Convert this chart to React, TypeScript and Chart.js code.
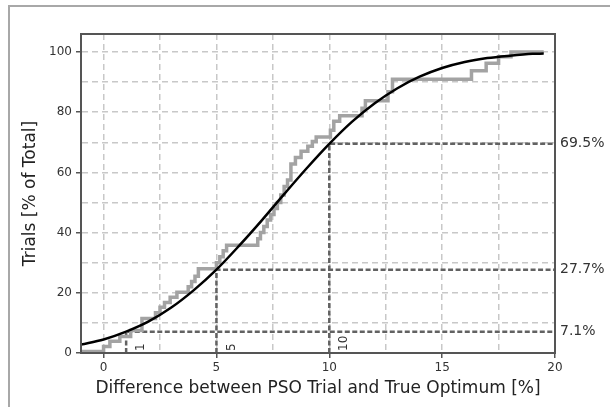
import React, { useEffect, useRef } from "react";
import { Chart, registerables } from "chart.js";

Chart.register(...registerables);

// ---- data ----
const xGrid = [0, 2.5, 5, 7.5, 10, 12.5, 15, 17.5, 20];
const xLabels = [0, 5, 10, 15, 20];
const yGrid = [0, 10, 20, 30, 40, 50, 60, 70, 80, 90, 100];
const yLabels = [0, 20, 40, 60, 80, 100];

// smooth fitted curve
const curveX = [-1, 0, 1, 2, 3, 4, 5, 6, 7, 8, 9, 10, 11, 12, 13, 14, 15, 16, 17, 18, 19, 19.5];
const curveY = [2.8, 4.5, 7.1, 10.5, 15.1, 20.9, 27.7, 35.6, 44.0, 52.8, 61.4, 69.5, 76.8, 82.9, 87.9, 91.8, 94.7, 96.7, 98.0, 98.8, 99.4, 99.5];

// empirical step curve (value holds from stepX[i] to stepX[i+1])
const stepX = [-1, 0, 0.28, 0.72, 1.2, 1.7, 2.3, 2.5, 2.7, 2.95, 3.25, 3.75, 3.9, 4.05, 4.2, 5.0, 5.15, 5.3, 5.45, 6.83, 6.95, 7.1, 7.25, 7.4, 7.55, 7.7, 7.85, 8.0, 8.15, 8.3, 8.5, 8.75, 9.05, 9.25, 9.42, 10.05, 10.2, 10.46, 11.45, 11.6, 12.6, 12.8, 16.3, 16.95, 17.5, 18.05, 19.5];
const stepY = [0.5, 2.2, 3.9, 5.5, 7.5, 11.5, 13.4, 15.2, 16.8, 18.5, 20.2, 22.0, 23.8, 25.5, 28.0, 30.0, 32.0, 34.0, 35.8, 38.0, 40.0, 42.0, 44.2, 46.0, 48.0, 50.0, 52.5, 55.3, 57.5, 62.8, 65.0, 67.0, 68.7, 70.3, 71.8, 74.0, 77.0, 78.8, 81.3, 83.8, 86.8, 91.0, 93.8, 96.3, 98.4, 100, 100];

// reference markers
const refX = [1, 5, 10];
const refY = [7.1, 27.7, 69.5];
const refLabels = ["7.1%", "27.7%", "69.5%"];

const X_MIN = -1;
const X_MAX = 20;
const Y_MIN = 0;
const Y_MAX = 106;

const FONT = "'DejaVu Sans', Verdana, sans-serif";

const frameAndLabels = {
  id: "frameAndLabels",
  afterDraw(chart: any) {
    const { ctx, chartArea, scales } = chart;
    const xs = scales.x;
    const ys = scales.y;
    ctx.save();
    ctx.strokeStyle = "#555";
    ctx.lineWidth = 2;
    ctx.setLineDash([]);
    ctx.strokeRect(chartArea.left, chartArea.top, chartArea.right - chartArea.left, chartArea.bottom - chartArea.top);

    ctx.fillStyle = "#333";
    ctx.font = `14px ${FONT}`;
    ctx.textAlign = "left";
    ctx.textBaseline = "middle";
    refY.forEach((v, i) => {
      ctx.fillText(refLabels[i], chartArea.right + 5, ys.getPixelForValue(v));
    });

    ctx.font = `12px ${FONT}`;
    refX.forEach((v) => {
      ctx.save();
      ctx.translate(xs.getPixelForValue(v) + 15, chartArea.bottom - 2);
      ctx.rotate(-Math.PI / 2);
      ctx.textAlign = "left";
      ctx.textBaseline = "middle";
      ctx.fillText(String(v), 0, 0);
      ctx.restore();
    });
    ctx.restore();
  },
};

export default function App() {
  const ref = useRef<HTMLCanvasElement | null>(null);

  useEffect(() => {
    if (!ref.current) return;
    const refSets = refX.map((x, i) => ({
      data: [
        { x, y: 0 },
        { x, y: refY[i] },
        { x: X_MAX, y: refY[i] },
      ],
      borderColor: "#626262",
      borderWidth: 2.5,
      borderDash: [5, 2.5],
      pointRadius: 0,
      tension: 0,
      fill: false,
    }));
    const chart = new Chart(ref.current, {
      type: "line",
      data: {
        datasets: [
          {
            data: curveX.map((x, i) => ({ x, y: curveY[i] })),
            borderColor: "#000",
            borderWidth: 2.5,
            pointRadius: 0,
            cubicInterpolationMode: "monotone",
            fill: false,
          },
          {
            data: stepX.map((x, i) => ({ x, y: stepY[i] })),
            borderColor: "#a3a3a3",
            borderWidth: 3.5,
            pointRadius: 0,
            stepped: "before",
            fill: false,
          },
          ...refSets,
        ] as any,
      },
      options: {
        animation: false,
        responsive: false,
        maintainAspectRatio: false,
        layout: { padding: { left: 20, right: 55, top: 34, bottom: 0 } },
        plugins: { legend: { display: false }, tooltip: { enabled: false } },
        scales: {
          x: {
            type: "linear",
            min: X_MIN,
            max: X_MAX,
            afterBuildTicks: (s: any) => {
              s.ticks = xGrid.map((value) => ({ value }));
            },
            afterFit: (s: any) => {
              s.height = 54;
            },
            grid: {
              color: "#c8c8c8",
              lineWidth: 1.5,
              tickLength: 5,
              tickWidth: 1.5,
              tickColor: (c: any) => (c.tick && xLabels.includes(c.tick.value) ? "#555" : "rgba(0,0,0,0)"),
            },
            border: { color: "#555", width: 2, dash: [6, 4] },
            ticks: {
              autoSkip: false,
              maxRotation: 0,
              padding: 3,
              color: "#333",
              font: { family: FONT, size: 12 },
              callback: (v: any) => (xLabels.includes(Number(v)) ? String(v) : ""),
            },
            title: {
              display: true,
              text: "Difference between PSO Trial and True Optimum [%]",
              color: "#222",
              font: { family: FONT, size: 17 },
              padding: { top: 0, bottom: 8 },
            },
          },
          y: {
            type: "linear",
            min: Y_MIN,
            max: Y_MAX,
            afterBuildTicks: (s: any) => {
              s.ticks = yGrid.map((value) => ({ value }));
            },
            afterFit: (s: any) => {
              s.width = 61;
            },
            grid: {
              color: "#c8c8c8",
              lineWidth: 1.5,
              tickLength: 5,
              tickWidth: 1.5,
              tickColor: (c: any) => (c.tick && yLabels.includes(c.tick.value) ? "#555" : "rgba(0,0,0,0)"),
            },
            border: { color: "#555", width: 2, dash: [6, 4] },
            ticks: {
              autoSkip: false,
              padding: 4,
              color: "#333",
              font: { family: FONT, size: 12 },
              callback: (v: any) => (yLabels.includes(Number(v)) ? String(v) : ""),
            },
            title: {
              display: true,
              text: "Trials [% of Total]",
              color: "#222",
              font: { family: FONT, size: 17 },
              padding: { top: 0, bottom: 0 },
            },
          },
        },
      },
      plugins: [frameAndLabels],
    });
    return () => chart.destroy();
  }, []);

  return (
    <div style={{ position: "absolute", left: 0, top: 0, width: 610, height: 407, overflow: "hidden", background: "#fff" }}>
      <div
        style={{
          position: "absolute",
          left: 8,
          top: 5,
          width: 602,
          height: 402,
          borderLeft: "2px solid #a8a8a8",
          borderTop: "2px solid #a8a8a8",
          boxSizing: "border-box",
        }}
      />
      <canvas ref={ref} width={610} height={407} style={{ position: "absolute", left: 0, top: 0 }} />
    </div>
  );
}
